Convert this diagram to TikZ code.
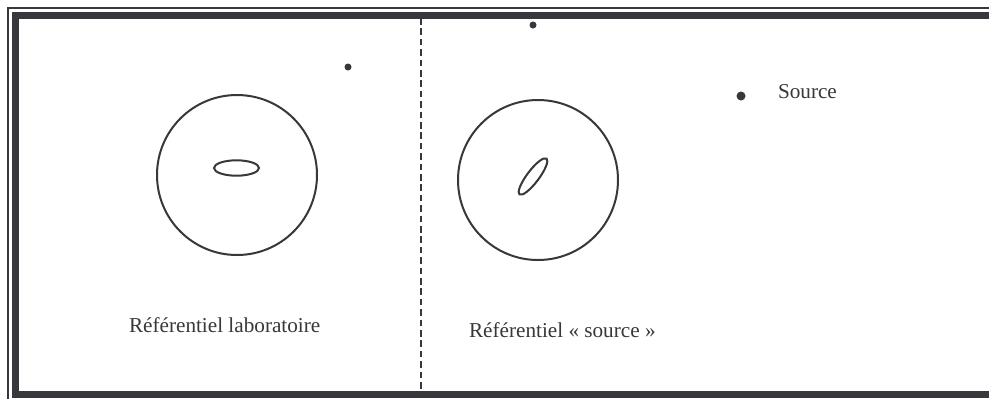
\documentclass[tikz,border=0pt]{standalone}
\usepackage{fontspec}
\setmainfont{Liberation Serif}
\usetikzlibrary{shapes.geometric}
\definecolor{ink}{RGB}{55,55,60}
\begin{document}
\begin{tikzpicture}[x=0.5pt,y=-0.5pt,
line width=1pt,draw=ink,
band/.style={draw=ink,line width=3.5pt},
rim/.style={draw=ink,line width=1pt},
sphere/.style={draw=ink,line width=1pt},
spot/.style={fill=ink,draw=none},
label/.style={anchor=west,inner sep=0pt,text=ink,font=\fontsize{10.6}{12}\selectfont}
]
\useasboundingbox (0,0) rectangle (989,398);
\clip (0,0) rectangle (989,398);
\fill[white] (0,0) rectangle (989,398);
\draw[rim] (8,8) rectangle (1010,410);
\draw[band] (15.75,15) rectangle (1000,394.5);
\coordinate (divtop) at (421,18);
\coordinate (divbot) at (421,391);
\draw[draw=ink,line width=1pt,dash pattern=on 3.3pt off 1.9pt] (divtop) -- (divbot);
\draw[sphere] (237,175) circle [radius=80];
\draw[sphere] (236.5,168) ellipse [x radius=22.5,y radius=7.7];
\draw[sphere] (538,180) circle [radius=80];
\draw[sphere,rotate around={53:(533,176.5)}] (533,176.5) ellipse [x radius=22.5,y radius=6];
\fill[spot] (348,67) circle [radius=3.5];
\fill[spot] (533,25) circle [radius=3.5];
\fill[spot] (741,96) circle [radius=4.5];
\node[label] (srclabel) at (777,92) {Source};
\node[label] (labframe) at (128,325) {Référentiel laboratoire};
\node[label] (srcframe) at (468,330) {Référentiel « source »};
\end{tikzpicture}
\end{document}
